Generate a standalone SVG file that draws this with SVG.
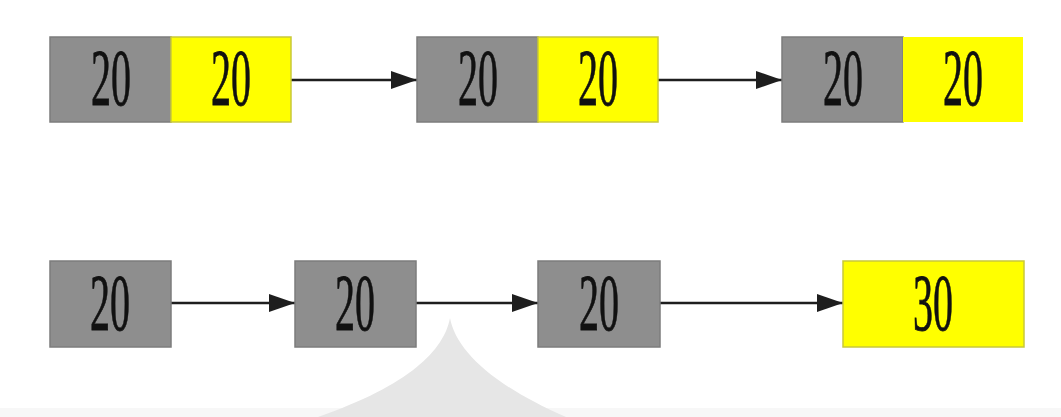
<svg xmlns="http://www.w3.org/2000/svg" width="1061" height="417" viewBox="0 0 1061 417">
  <style>
    .g { fill: #8e8e8e; stroke: #7c7c7c; stroke-width: 1.5; }
    .y { fill: #ffff00; stroke: #c9c93a; stroke-width: 1.5; }
    .t { font-family: "Liberation Serif", "Times New Roman", serif; font-size: 80px; fill: #111; stroke: #111; stroke-width: 0.8; text-anchor: middle; }
    .c { stroke: #1e1e1e; stroke-width: 2.5; fill: none; marker-end: url(#ah); }
  </style>
  <defs>
    <marker id="ah" viewBox="0 0 26 18" refX="26" refY="9" markerUnits="userSpaceOnUse" markerWidth="26" markerHeight="18" orient="auto">
      <path d="M0,0 L26,9 L0,18 Z" fill="#1e1e1e"/>
    </marker>
  </defs>
  <rect width="1061" height="417" fill="#ffffff"/>
  <!-- faint backdrop shapes -->
  <rect x="0" y="408" width="1061" height="9" fill="#f7f7f7"/>
  <path d="M450,318 C444,350 410,385 318,417 L566,417 C492,385 456,350 450,318 Z" fill="#e6e6e6"/>

  <!-- connectors -->
  <g id="connectors">
    <line class="c" x1="291" y1="80" x2="417" y2="80"/>
    <line class="c" x1="658" y1="80" x2="782" y2="80"/>
    <line class="c" x1="171" y1="303" x2="295" y2="303"/>
    <line class="c" x1="416" y1="303" x2="538" y2="303"/>
    <line class="c" x1="660" y1="303" x2="843" y2="303"/>
  </g>

  <!-- top row: two-field nodes -->
  <g id="top1">
    <rect class="g" x="50" y="37" width="121" height="85"/>
    <rect class="y" x="171" y="37" width="120" height="85"/>
    <text class="t" x="111" y="105" textLength="40" lengthAdjust="spacingAndGlyphs">20</text>
    <text class="t" x="231" y="105" textLength="40" lengthAdjust="spacingAndGlyphs">20</text>
  </g>
  <g id="top2">
    <rect class="g" x="417" y="37" width="121" height="85"/>
    <rect class="y" x="538" y="37" width="120" height="85"/>
    <text class="t" x="478" y="105" textLength="40" lengthAdjust="spacingAndGlyphs">20</text>
    <text class="t" x="598" y="105" textLength="40" lengthAdjust="spacingAndGlyphs">20</text>
  </g>
  <g id="top3">
    <rect class="g" x="782" y="37" width="121" height="85"/>
    <rect x="903" y="37" width="120" height="85" fill="#ffff00"/>
    <text class="t" x="843" y="105" textLength="40" lengthAdjust="spacingAndGlyphs">20</text>
    <text class="t" x="963" y="105" textLength="40" lengthAdjust="spacingAndGlyphs">20</text>
  </g>

  <!-- bottom row: single-field nodes -->
  <g id="bot1">
    <rect class="g" x="50" y="261" width="121" height="86"/>
    <text class="t" x="110" y="330" textLength="40" lengthAdjust="spacingAndGlyphs">20</text>
  </g>
  <g id="bot2">
    <rect class="g" x="295" y="261" width="121" height="86"/>
    <text class="t" x="355" y="330" textLength="40" lengthAdjust="spacingAndGlyphs">20</text>
  </g>
  <g id="bot3">
    <rect class="g" x="538" y="261" width="122" height="86"/>
    <text class="t" x="599" y="330" textLength="40" lengthAdjust="spacingAndGlyphs">20</text>
  </g>
  <g id="bot4">
    <rect class="y" x="843" y="261" width="181" height="86"/>
    <text class="t" x="933" y="330" textLength="40" lengthAdjust="spacingAndGlyphs">30</text>
  </g>
</svg>
